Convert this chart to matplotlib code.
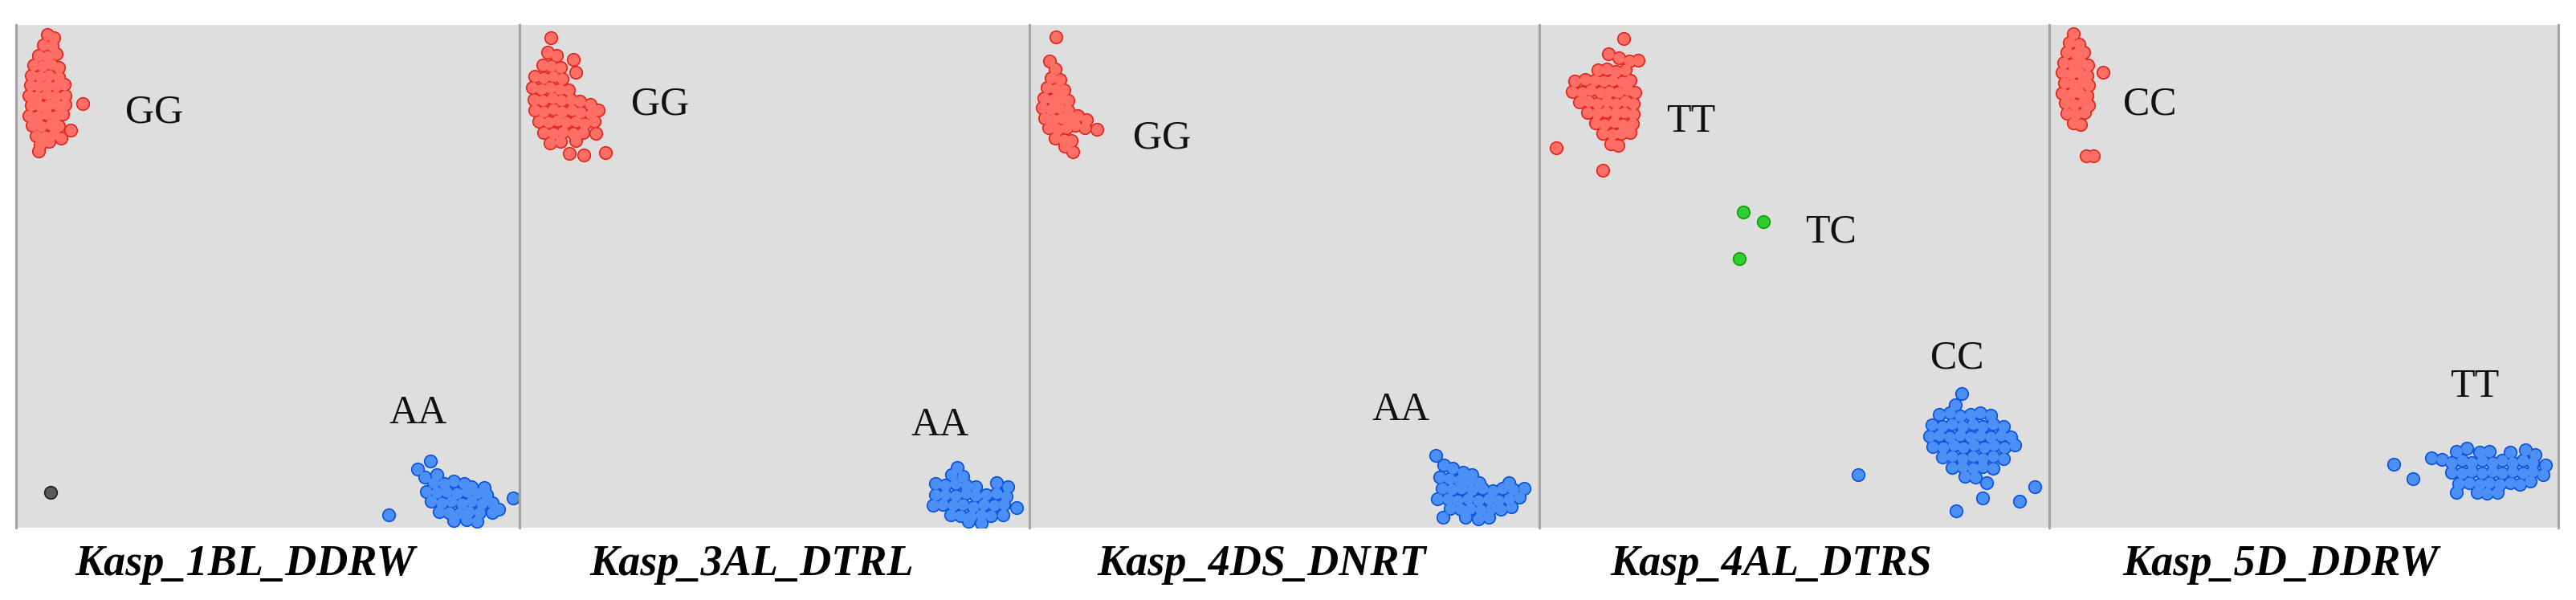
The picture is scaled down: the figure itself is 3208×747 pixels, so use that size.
"""
KASP genotyping cluster plots for five markers
"""

import matplotlib
matplotlib.use("Agg")
import matplotlib.pyplot as plt

# marker names under each panel
markers = ["Kasp_1BL_DDRW", "Kasp_3AL_DTRL", "Kasp_4DS_DNRT", "Kasp_4AL_DTRS", "Kasp_5D_DDRW"]

# ---- panel 1 : Kasp_1BL_DDRW ----
p1_red = [(0.062, 0.981), (0.075, 0.975), (0.055, 0.960), (0.072, 0.958), (0.045, 0.940), (0.062, 0.938),
          (0.080, 0.942), (0.035, 0.920), (0.052, 0.918), (0.070, 0.922), (0.085, 0.915), (0.030, 0.900),
          (0.048, 0.898), (0.066, 0.900), (0.084, 0.896), (0.028, 0.880), (0.045, 0.878), (0.062, 0.880),
          (0.080, 0.878), (0.095, 0.882), (0.025, 0.860), (0.042, 0.858), (0.060, 0.862), (0.078, 0.858),
          (0.097, 0.860), (0.030, 0.840), (0.048, 0.838), (0.066, 0.842), (0.084, 0.838), (0.098, 0.842),
          (0.025, 0.820), (0.043, 0.818), (0.060, 0.822), (0.078, 0.818), (0.092, 0.822), (0.032, 0.800),
          (0.050, 0.798), (0.068, 0.802), (0.085, 0.798), (0.040, 0.780), (0.058, 0.778), (0.075, 0.782),
          (0.090, 0.775), (0.048, 0.762), (0.065, 0.768), (0.045, 0.750), (0.132, 0.844), (0.109, 0.790)]
p1_blue = [(0.798, 0.117), (0.823, 0.132), (0.812, 0.100), (0.835, 0.105), (0.830, 0.090), (0.850, 0.088),
           (0.870, 0.092), (0.890, 0.088), (0.905, 0.082), (0.930, 0.080), (0.815, 0.072), (0.835, 0.070),
           (0.855, 0.072), (0.875, 0.068), (0.895, 0.072), (0.915, 0.068), (0.935, 0.066), (0.825, 0.052),
           (0.845, 0.050), (0.865, 0.052), (0.885, 0.048), (0.905, 0.052), (0.925, 0.048), (0.945, 0.050),
           (0.840, 0.032), (0.860, 0.030), (0.880, 0.028), (0.900, 0.032), (0.920, 0.030), (0.945, 0.030),
           (0.958, 0.036), (0.870, 0.014), (0.895, 0.016), (0.915, 0.012), (0.740, 0.025), (0.987, 0.059)]
p1_green = []
p1_ntc = [(0.069, 0.071)]
p1_labels = [("GG", 0.274, 0.825), ("AA", 0.798, 0.227)]

# ---- panel 2 : Kasp_3AL_DTRL ----
p2_red = [(0.061, 0.975), (0.055, 0.945), (0.072, 0.940), (0.106, 0.931), (0.045, 0.920), (0.062, 0.918),
          (0.080, 0.915), (0.111, 0.905), (0.030, 0.898), (0.048, 0.895), (0.066, 0.898), (0.084, 0.893),
          (0.025, 0.875), (0.042, 0.872), (0.060, 0.876), (0.078, 0.872), (0.096, 0.870), (0.028, 0.852),
          (0.046, 0.850), (0.064, 0.854), (0.082, 0.850), (0.100, 0.852), (0.118, 0.848), (0.138, 0.842),
          (0.030, 0.830), (0.048, 0.828), (0.066, 0.832), (0.084, 0.828), (0.102, 0.830), (0.120, 0.826),
          (0.140, 0.822), (0.155, 0.830), (0.038, 0.808), (0.056, 0.806), (0.074, 0.810), (0.092, 0.806),
          (0.110, 0.808), (0.128, 0.804), (0.146, 0.808), (0.048, 0.786), (0.066, 0.784), (0.085, 0.788),
          (0.105, 0.784), (0.125, 0.786), (0.150, 0.785), (0.060, 0.765), (0.080, 0.768), (0.110, 0.770),
          (0.097, 0.745), (0.126, 0.741), (0.169, 0.746)]
p2_blue = [(0.859, 0.120), (0.848, 0.105), (0.870, 0.102), (0.816, 0.088), (0.835, 0.085), (0.855, 0.088),
           (0.875, 0.085), (0.895, 0.082), (0.935, 0.090), (0.958, 0.082), (0.815, 0.065), (0.835, 0.066),
           (0.855, 0.064), (0.875, 0.068), (0.895, 0.064), (0.915, 0.066), (0.935, 0.068), (0.955, 0.062),
           (0.811, 0.044), (0.830, 0.046), (0.850, 0.044), (0.870, 0.046), (0.890, 0.042), (0.910, 0.046),
           (0.930, 0.044), (0.950, 0.046), (0.975, 0.040), (0.845, 0.026), (0.865, 0.024), (0.885, 0.022),
           (0.905, 0.026), (0.925, 0.024), (0.948, 0.026), (0.880, 0.012), (0.905, 0.010)]
p2_green = []
p2_ntc = []
p2_labels = [("GG", 0.275, 0.842), ("AA", 0.824, 0.204)]

# ---- panel 3 : Kasp_4DS_DNRT ----
p3_red = [(0.052, 0.976), (0.040, 0.928), (0.050, 0.912), (0.042, 0.895), (0.060, 0.892), (0.035, 0.875),
          (0.052, 0.872), (0.068, 0.870), (0.028, 0.855), (0.045, 0.852), (0.062, 0.855), (0.075, 0.850),
          (0.025, 0.835), (0.042, 0.832), (0.058, 0.835), (0.075, 0.830), (0.030, 0.815), (0.047, 0.812),
          (0.063, 0.815), (0.080, 0.812), (0.095, 0.820), (0.112, 0.812), (0.038, 0.795), (0.055, 0.792),
          (0.072, 0.795), (0.090, 0.800), (0.108, 0.795), (0.132, 0.793), (0.050, 0.775), (0.068, 0.772),
          (0.082, 0.770), (0.070, 0.758), (0.085, 0.748)]
p3_blue = [(0.797, 0.143), (0.812, 0.124), (0.830, 0.118), (0.850, 0.110), (0.868, 0.105), (0.805, 0.100),
           (0.823, 0.098), (0.842, 0.095), (0.862, 0.092), (0.882, 0.090), (0.940, 0.090), (0.810, 0.078),
           (0.828, 0.076), (0.848, 0.078), (0.868, 0.075), (0.888, 0.078), (0.908, 0.074), (0.928, 0.078),
           (0.948, 0.076), (0.970, 0.078), (0.800, 0.058), (0.820, 0.058), (0.840, 0.055), (0.860, 0.058),
           (0.880, 0.055), (0.900, 0.058), (0.920, 0.054), (0.940, 0.058), (0.960, 0.060), (0.825, 0.038),
           (0.845, 0.036), (0.865, 0.038), (0.885, 0.035), (0.905, 0.038), (0.925, 0.036), (0.945, 0.042),
           (0.811, 0.020), (0.855, 0.020), (0.880, 0.018), (0.900, 0.020)]
p3_green = []
p3_ntc = []
p3_labels = [("GG", 0.260, 0.774), ("AA", 0.729, 0.233)]

# ---- panel 4 : Kasp_4AL_DTRS ----
p4_red = [(0.166, 0.973), (0.135, 0.943), (0.156, 0.935), (0.176, 0.928), (0.193, 0.929), (0.115, 0.910),
          (0.132, 0.912), (0.150, 0.908), (0.168, 0.910), (0.070, 0.888), (0.090, 0.892), (0.108, 0.890),
          (0.126, 0.888), (0.144, 0.890), (0.162, 0.886), (0.178, 0.890), (0.065, 0.868), (0.083, 0.866),
          (0.101, 0.870), (0.119, 0.866), (0.137, 0.868), (0.155, 0.866), (0.173, 0.870), (0.188, 0.866),
          (0.078, 0.846), (0.096, 0.848), (0.114, 0.844), (0.132, 0.848), (0.150, 0.844), (0.168, 0.848),
          (0.185, 0.844), (0.095, 0.826), (0.113, 0.824), (0.131, 0.828), (0.149, 0.824), (0.167, 0.826),
          (0.185, 0.822), (0.110, 0.805), (0.128, 0.802), (0.146, 0.806), (0.164, 0.802), (0.182, 0.804),
          (0.125, 0.784), (0.143, 0.782), (0.161, 0.784), (0.178, 0.786), (0.140, 0.764), (0.155, 0.760),
          (0.033, 0.755), (0.124, 0.711)]
p4_blue = [(0.828, 0.267), (0.815, 0.245), (0.785, 0.225), (0.805, 0.228), (0.825, 0.222), (0.845, 0.226),
           (0.865, 0.228), (0.885, 0.224), (0.770, 0.205), (0.790, 0.202), (0.810, 0.206), (0.830, 0.202),
           (0.850, 0.206), (0.870, 0.202), (0.890, 0.206), (0.910, 0.202), (0.765, 0.182), (0.785, 0.184),
           (0.805, 0.180), (0.825, 0.184), (0.845, 0.180), (0.865, 0.184), (0.885, 0.180), (0.905, 0.184),
           (0.925, 0.180), (0.772, 0.162), (0.792, 0.160), (0.812, 0.164), (0.832, 0.160), (0.852, 0.164),
           (0.872, 0.160), (0.892, 0.164), (0.912, 0.160), (0.932, 0.164), (0.790, 0.140), (0.810, 0.142),
           (0.830, 0.138), (0.850, 0.142), (0.870, 0.138), (0.890, 0.142), (0.910, 0.138), (0.810, 0.120),
           (0.830, 0.122), (0.850, 0.118), (0.870, 0.122), (0.890, 0.118), (0.835, 0.102), (0.855, 0.100),
           (0.877, 0.090), (0.625, 0.105), (0.870, 0.059), (0.818, 0.033), (0.942, 0.052), (0.971, 0.081)]
p4_green = [(0.400, 0.627), (0.439, 0.609), (0.392, 0.535)]
p4_ntc = []
p4_labels = [("TT", 0.297, 0.807), ("TC", 0.571, 0.588), ("CC", 0.819, 0.337)]

# ---- panel 5 : Kasp_5D_DDRW ----
p5_red = [(0.048, 0.982), (0.040, 0.965), (0.058, 0.962), (0.035, 0.945), (0.052, 0.942), (0.068, 0.946),
          (0.028, 0.925), (0.045, 0.922), (0.062, 0.926), (0.075, 0.920), (0.025, 0.905), (0.042, 0.902),
          (0.059, 0.906), (0.074, 0.900), (0.030, 0.885), (0.047, 0.882), (0.064, 0.886), (0.078, 0.880),
          (0.025, 0.865), (0.042, 0.862), (0.059, 0.866), (0.074, 0.860), (0.032, 0.845), (0.049, 0.842),
          (0.066, 0.846), (0.078, 0.840), (0.035, 0.825), (0.052, 0.822), (0.069, 0.826), (0.048, 0.805),
          (0.062, 0.802), (0.106, 0.906), (0.072, 0.739), (0.087, 0.739)]
p5_blue = [(0.677, 0.126), (0.715, 0.097), (0.751, 0.139), (0.771, 0.136), (0.800, 0.152), (0.820, 0.158),
           (0.845, 0.150), (0.865, 0.152), (0.905, 0.150), (0.935, 0.155), (0.955, 0.145), (0.790, 0.130),
           (0.810, 0.134), (0.830, 0.130), (0.850, 0.134), (0.870, 0.130), (0.890, 0.134), (0.910, 0.130),
           (0.930, 0.134), (0.950, 0.130), (0.975, 0.125), (0.790, 0.110), (0.810, 0.108), (0.830, 0.112),
           (0.850, 0.108), (0.870, 0.112), (0.890, 0.108), (0.910, 0.112), (0.930, 0.108), (0.950, 0.112),
           (0.970, 0.106), (0.805, 0.088), (0.825, 0.090), (0.845, 0.086), (0.865, 0.090), (0.885, 0.086),
           (0.905, 0.090), (0.925, 0.086), (0.945, 0.092), (0.799, 0.071), (0.840, 0.070), (0.860, 0.068),
           (0.880, 0.070)]
p5_green = []
p5_ntc = []
p5_labels = [("CC", 0.198, 0.842), ("TT", 0.836, 0.280)]

panels = [
    (p1_red, p1_blue, p1_green, p1_ntc, p1_labels),
    (p2_red, p2_blue, p2_green, p2_ntc, p2_labels),
    (p3_red, p3_blue, p3_green, p3_ntc, p3_labels),
    (p4_red, p4_blue, p4_green, p4_ntc, p4_labels),
    (p5_red, p5_blue, p5_green, p5_ntc, p5_labels),
]

# (edge colour, fill colour) per group
styles = {
    "red": ("#e3261d", "#ff6f66"),
    "blue": ("#0a52e0", "#4c90f5"),
    "green": ("#0d9e0d", "#2fcf2f"),
    "ntc": ("#1e1e1e", "#5a5a5a"),
}

W, H, DPI = 3208, 747, 100
fig = plt.figure(figsize=(W / DPI, H / DPI), dpi=DPI)

edges = [20, 647, 1282, 1917, 2552, 3186]
top, bottom = 31, 657


def draw_group(ax, pts, key):
    if not pts:
        return
    xs = [p[0] for p in pts]
    ys = [p[1] for p in pts]
    edge, fill = styles[key]
    # outline pass, then fill pass on top so only the cluster outline stays dark
    ax.scatter(xs, ys, s=155, color=edge, linewidths=0, zorder=3)
    ax.scatter(xs, ys, s=100, color=fill, linewidths=0, zorder=4)


for i, (red, blue, green, ntc, labels) in enumerate(panels):
    x0, x1 = edges[i], edges[i + 1]
    ax = fig.add_axes([x0 / W, 1 - bottom / H, (x1 - x0) / W, (bottom - top) / H])
    ax.set_facecolor("#dedede")
    ax.set_xlim(0, 1)
    ax.set_ylim(0, 1)
    ax.set_xticks([])
    ax.set_yticks([])
    for side in ["top", "bottom"]:
        ax.spines[side].set_visible(False)
    for side in ["left", "right"]:
        ax.spines[side].set_color("#a4a4a4")
        ax.spines[side].set_linewidth(2.2)

    draw_group(ax, red, "red")
    draw_group(ax, blue, "blue")
    draw_group(ax, green, "green")
    draw_group(ax, ntc, "ntc")

    for txt, tx, ty in labels:
        ax.text(tx, ty, txt, ha="center", va="center", fontsize=36,
                family="Liberation Serif", color="#111111", zorder=5)

    fig.text((x0 + 0.455 * (x1 - x0)) / W, 1 - 703 / H, markers[i], ha="center", va="center",
             fontsize=39, family="Liberation Serif", weight="bold", style="italic", color="black")

fig.savefig("out.png", dpi=DPI, facecolor="white")
